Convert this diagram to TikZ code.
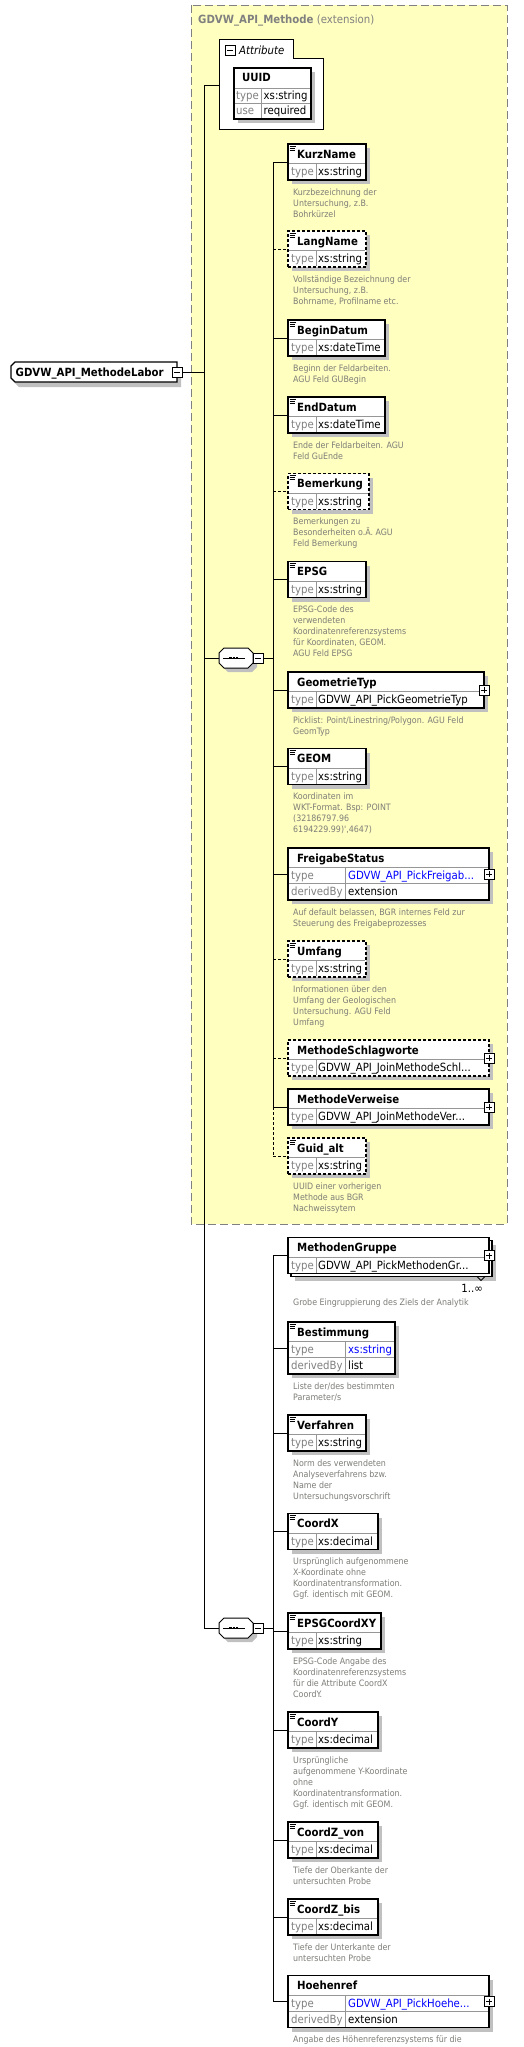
\documentclass[tikz,border=0pt]{standalone}
\usepackage{fontspec}
\IfFontExistsTF{DejaVu Sans Condensed}
  {\setmainfont{DejaVu Sans Condensed}[BoldFont={DejaVu Sans Condensed Bold},ItalicFont={DejaVu Sans Condensed Oblique}]}
  {\setmainfont{DejaVu Sans}}
\usetikzlibrary{calc}
\definecolor{xsdyellow}{RGB}{255,255,192}
\definecolor{framegray}{RGB}{128,128,128}
\definecolor{dropgray}{RGB}{192,192,192}
\definecolor{cellgray}{RGB}{150,150,150}
\definecolor{keygray}{RGB}{128,128,128}
\definecolor{notegray}{RGB}{125,125,120}
\definecolor{linkblue}{RGB}{0,0,255}
\tikzset{
  wire/.style={line width=0.9pt},
  opt/.style={dash pattern=on 3pt off 2pt},
  drop/.style={fill=dropgray},
  ext/.style={fill=xsdyellow,draw=framegray,line width=0.9pt,dash pattern=on 8pt off 4pt},
  elbox/.style={draw,line width=1.4pt,fill=white,inner sep=0pt,outer sep=0pt,anchor=north west},
  cell/.style={draw=cellgray,line width=0.8pt},
  ename/.style={font=\fontsize{11.3}{13}\selectfont\bfseries,anchor=base west,inner sep=0pt},
  tkey/.style={font=\fontsize{11.3}{13}\selectfont,text=keygray,anchor=base west,inner sep=0pt},
  tval/.style={font=\fontsize{11.3}{13}\selectfont,anchor=base west,inner sep=0pt},
  note/.style={font=\fontsize{8.8}{11}\selectfont,text=notegray,anchor=north west,align=left,inner sep=0pt},
  grouptitle/.style={font=\fontsize{11.3}{13}\selectfont,text=framegray,anchor=base west,inner sep=0pt},
  % pictograms
  pics/docmark/.style={code={
    \draw[line width=0.7pt] (1.5,2) -- (7.5,2) (1.5,4) -- (6.5,4) (1.5,6) -- (6.5,6);
  }},
  pics/plusbox/.style={code={
    \draw[fill=white,line width=0.8pt] (-5,-5) rectangle (5,5);
    \draw[line width=0.8pt] (-3,0) -- (3,0) (0,-3) -- (0,3);
  }},
  pics/minusbox/.style={code={
    \draw[fill=white,line width=0.8pt] (-5,-5) rectangle (5,5);
    \draw[line width=0.8pt] (-3,0) -- (3,0);
  }},
  pics/seq/.style={code={
    \fill[drop] (9,4) -- (33,4) -- (38,9) -- (38,19) -- (33,24) -- (9,24) -- (4,19) -- (4,9) -- cycle;
    \draw[fill=white,line width=1pt] (5,0) -- (29,0) -- (34,5) -- (34,15) -- (29,20) -- (5,20) -- (0,15) -- (0,5) -- cycle;
    \draw[line width=0.8pt] (4,10) -- (26,10);
    \foreach \d in {11.5,14.8,18.1} \fill (\d-1.2,8.8) rectangle (\d+1.2,11.2);
    \pic at (39,10) {minusbox};
    \coordinate (-in) at (0,10);
    \coordinate (-out) at (44,10);
  }},
  pics/elem/.style n args={5}{code={
    \fill[drop] (4,4) rectangle (#1+4,40);
    \node[elbox,minimum width=#1,minimum height=36,#2] (-box) at (0,0) {};
    \draw[cell] (0.7,19.6) -- (#1-0.7,19.6) (28,19.6) -- (28,35.3);
    \node[ename] (-name) at (9,14) {#3};
    \node[tkey] at (3,31.5) {type};
    \node[tval] (-type) at (30,31.5) {#4};
    \node[note] (-note) at (5,44.5) {#5};
  }},
  pics/elemthree/.style n args={5}{code={
    \fill[drop] (4,4) rectangle (#1+4,56);
    \node[elbox,minimum width=#1,minimum height=52] (-box) at (0,0) {};
    \draw[cell] (0.7,19.6) -- (#1-0.7,19.6) (0.7,35.6) -- (#1-0.7,35.6) (57,19.6) -- (57,51.3);
    \node[ename] (-name) at (9,14) {#2};
    \node[tkey] at (3,31.5) {type};
    \node[tval,text=linkblue] (-type) at (60,31.5) {#3};
    \node[tkey] at (3,47.5) {derivedBy};
    \node[tval] (-derived) at (60,47.5) {#4};
    \node[note] (-note) at (5,60.5) {#5};
  }},
}
\begin{document}
\begin{tikzpicture}[x=1pt,y=-1pt]
\useasboundingbox (0,0) rectangle (523,2047);
\fill[white] (0,0) rectangle (523,2047);
\draw[ext] (191,5) rectangle (507,1224);
\node[grouptitle] (ext-title) at (198,24) {\textbf{GDVW\_API\_Methode} (extension)};

% attributes
\draw[fill=white,line width=1pt] (219,39.5) -- (293,39.5) -- (293,58.5) -- (323,58.5) -- (323,130) -- (219,130) -- cycle;
\pic at (230,50) {minusbox};
\node[tval,font=\fontsize{11.3}{13}\selectfont\itshape] (attr-title) at (239,54.5) {Attribute};
\fill[drop] (238,72) rectangle (315,123);
\node[elbox,minimum width=77,minimum height=51] (uuid) at (234,68) {};
\draw[cell] (234.7,88) -- (310.3,88) (234.7,103.5) -- (310.3,103.5) (261,88) -- (261,118.3);
\node[ename] (uuid-name) at (242,82) {UUID};
\node[tkey] at (236,99.5) {type};
\node[tval] at (263.5,99.5) {xs:string};
\node[tkey] at (236,115) {use};
\node[tval] at (263.5,115) {required};
\coordinate (attr) at (219,85.5);

% root
\fill[drop] (19,367) -- (181,367) -- (181,387) -- (19,387) -- (15,383) -- (15,371) -- cycle;
\draw[fill=white,line width=1.4pt] (15,362) -- (177,362) -- (177,382) -- (15,382) -- (11,378) -- (11,366) -- cycle;
\node[ename] (root) at (15.5,376.5) {GDVW\_API\_MethodeLabor};
\pic at (177,372) {minusbox};
\coordinate (root-out) at (182,372);
\coordinate (trunk) at (204,0);
\coordinate (bus) at (273,0);

\pic (seq1) at (219,648) {seq};
\pic (seq2) at (219,1618) {seq};

% first sequence
\pic (kurz) at (288,144) {elem={78}{solid}{KurzName}{xs:string}{Kurzbezeichnung der\\Untersuchung, z.B.\\Bohrkürzel}};
\pic (lang) at (288,231) {elem={78}{opt}{LangName}{xs:string}{Vollständige Bezeichnung der\\Untersuchung, z.B.\\Bohrname, Profilname etc.}};
\pic (begin) at (288,320) {elem={97}{solid}{BeginDatum}{xs:dateTime}{Beginn der Feldarbeiten.\\AGU Feld GUBegin}};
\pic (end) at (288,397) {elem={97}{solid}{EndDatum}{xs:dateTime}{Ende der Feldarbeiten. AGU\\Feld GuEnde}};
\pic (bem) at (288,473.5) {elem={81}{opt}{Bemerkung}{xs:string}{Bemerkungen zu\\Besonderheiten o.Ä. AGU\\Feld Bemerkung}};
\pic (epsg) at (288,561.5) {elem={78}{solid}{EPSG}{xs:string}{EPSG-Code des\\verwendeten\\Koordinatenreferenzsystems\\für Koordinaten, GEOM.\\AGU Feld EPSG}};
\pic (geomtyp) at (288,672) {elem={196}{solid}{GeometrieTyp}{GDVW\_API\_PickGeometrieTyp}{Picklist: Point/Linestring/Polygon. AGU Feld\\GeomTyp}};
\pic (geom) at (288,748.5) {elem={78}{solid}{GEOM}{xs:string}{Koordinaten im\\WKT-Format. Bsp: POINT\\(32186797.96\\6194229.99)\textquotesingle,4647)}};
\pic (freig) at (288,848) {elemthree={201}{FreigabeStatus}{GDVW\_API\_PickFreigab...}{extension}{Auf default belassen, BGR internes Feld zur\\Steuerung des Freigabeprozesses}};
\pic (umf) at (288,941) {elem={78}{opt}{Umfang}{xs:string}{Informationen über den\\Umfang der Geologischen\\Untersuchung. AGU Feld\\Umfang}};
\pic (schlag) at (288,1040) {elem={201}{opt}{MethodeSchlagworte}{GDVW\_API\_JoinMethodeSchl...}{}};
\pic (verw) at (288,1089) {elem={201}{solid}{MethodeVerweise}{GDVW\_API\_JoinMethodeVer...}{}};
\pic (guid) at (288,1138) {elem={78}{opt}{Guid\_alt}{xs:string}{UUID einer vorherigen\\Methode aus BGR\\Nachweissytem}};

% second sequence
\fill[drop] (295,1244.5) rectangle (496,1280.5);
\draw[fill=white,line width=1.4pt] (291,1240.5) rectangle (492,1276.5);
\pic[drop/.style={fill=none}] (gruppe) at (288,1237.5) {elem={201}{solid}{MethodenGruppe}{GDVW\_API\_PickMethodenGr...}{}};
\draw[line width=0.8pt] (477,1276.5) -- (481,1280.5) -- (485,1276.5);
\node[tval,anchor=base east] (gruppe-occ) at (483,1292) {1..∞};
\node[note] (gruppe-note) at (293,1298.5) {Grobe Eingruppierung des Ziels der Analytik};
\pic (best) at (288,1322) {elemthree={107}{Bestimmung}{xs:string}{list}{Liste der/des bestimmten\\Parameter/s}};
\pic (verf) at (288,1415) {elem={78}{solid}{Verfahren}{xs:string}{Norm des verwendeten\\Analyseverfahrens bzw.\\Name der\\Untersuchungsvorschrift}};
\pic (cx) at (288,1513.5) {elem={90}{solid}{CoordX}{xs:decimal}{Ursprünglich aufgenommene\\X-Koordinate ohne\\Koordinatentransformation.\\Ggf. identisch mit GEOM.}};
\pic (epsgxy) at (288,1613) {elem={93}{solid}{EPSGCoordXY}{xs:string}{EPSG-Code Angabe des\\Koordinatenreferenzsystems\\für die Attribute CoordX\\CoordY.}};
\pic (cy) at (288,1712) {elem={90}{solid}{CoordY}{xs:decimal}{Ursprüngliche\\aufgenommene Y-Koordinate\\ohne\\Koordinatentransformation.\\Ggf. identisch mit GEOM.}};
\pic (czv) at (288,1822) {elem={90}{solid}{CoordZ\_von}{xs:decimal}{Tiefe der Oberkante der\\untersuchten Probe}};
\pic (czb) at (288,1899) {elem={90}{solid}{CoordZ\_bis}{xs:decimal}{Tiefe der Unterkante der\\untersuchten Probe}};
\pic (hoehe) at (288,1975.5) {elemthree={201}{Hoehenref}{GDVW\_API\_PickHoehe...}{extension}{Angabe des Höhenreferenzsystems für die}};

\foreach \n in {kurz,lang,begin,end,bem,epsg,geom,umf,guid,best,verf,cx,epsgxy,cy,czv,czb}
  \pic at (\n-box.north west) {docmark};
\foreach \n in {geomtyp,freig,schlag,verw,gruppe,hoehe}
  \pic at (\n-box.east) {plusbox};

% connectors
\draw[wire] (root-out) -- (root-out -| trunk);
\draw[wire] (attr) -| (trunk |- seq2-in) -- (seq2-in);
\draw[wire] (seq1-in) -- (seq1-in -| trunk);
\draw[wire] (seq1-out) -- (seq1-out -| bus);
\draw[wire] (seq2-out) -- (seq2-out -| bus);
\draw[wire] (kurz-box.west -| bus) -- (verw-box.west -| bus);
\draw[wire,opt] (verw-box.west -| bus) -- (guid-box.west -| bus);
\draw[wire] (gruppe-box.west -| bus) -- (hoehe-box.west -| bus);
\foreach \n in {kurz,begin,end,epsg,geomtyp,geom,freig,verw,gruppe,best,verf,cx,epsgxy,cy,czv,czb,hoehe}
  \draw[wire] (\n-box.west -| bus) -- (\n-box.west);
\foreach \n in {lang,bem,umf,schlag,guid}
  \draw[wire,opt] (\n-box.west -| bus) -- (\n-box.west);
\end{tikzpicture}
\end{document}
